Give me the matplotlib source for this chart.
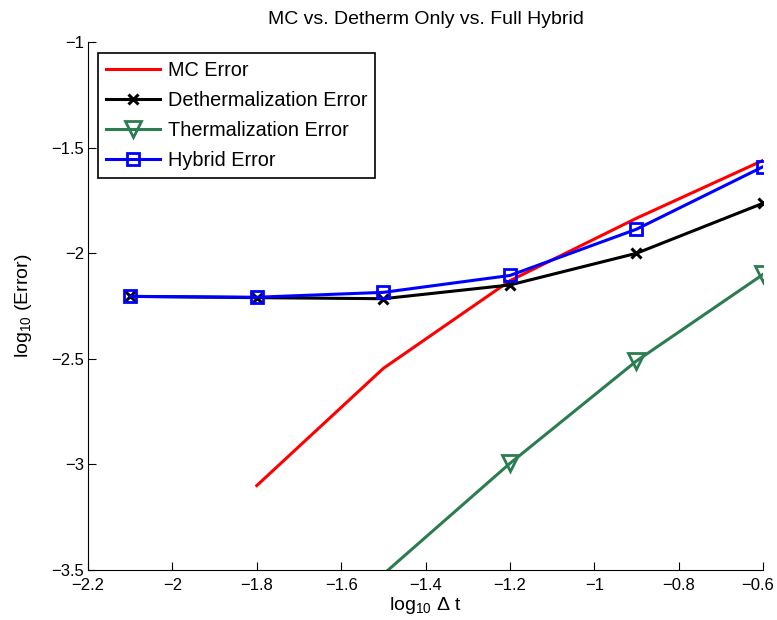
import matplotlib
matplotlib.use("Agg")
import matplotlib.pyplot as plt
import matplotlib.transforms as mtransforms

plt.rcParams['font.family'] = ['Liberation Sans', 'DejaVu Sans']
plt.rcParams['mathtext.fontset'] = 'custom'
plt.rcParams['mathtext.rm'] = 'Liberation Sans'

# log10 of time step
dt_mc = [-1.8, -1.5, -1.2, -0.9, -0.6]
dt_all = [-2.1, -1.8, -1.5, -1.2, -0.9, -0.6]
dt_therm = [-1.5, -1.2, -0.9, -0.6]

# log10 of error
mc_err = [-3.10, -2.545, -2.13, -1.834, -1.56]
detherm_err = [-2.204, -2.21, -2.215, -2.15, -2.0, -1.763]
therm_err = [-3.52, -2.995, -2.51, -2.10]
hybrid_err = [-2.204, -2.208, -2.185, -2.105, -1.886, -1.59]

fig = plt.figure(figsize=(7.77, 6.2), dpi=100)
ax = fig.add_axes([0.1133, 0.0806, 0.8687, 0.8514])

ax.plot(dt_mc, mc_err, color='red', lw=2.2, label='MC Error')
ax.plot(dt_all, detherm_err, color='black', lw=2.2, marker='x', ms=7,
        mew=2.2, label='Dethermalization Error')
# first point lies below the axis, its marker is hidden like MATLAB does
ax.plot(dt_therm, therm_err, color='#2c7c52', lw=2.2, marker='v', ms=12,
        mfc='none', mew=2, markevery=[1, 2, 3], label='Thermalization Error')
ax.plot(dt_all, hybrid_err, color='blue', lw=2.2, marker='s', ms=8,
        mfc='none', mew=2, label='Hybrid Error')

ax.set_xlim(-2.2, -0.6)
ax.set_ylim(-3.5, -1)
ax.set_xticks([-2.2, -2, -1.8, -1.6, -1.4, -1.2, -1, -0.8, -0.6])
ax.set_xticklabels(['\u22122.2', '\u22122', '\u22121.8', '\u22121.6', '\u22121.4',
                    '\u22121.2', '\u22121', '\u22120.8', '\u22120.6'])
ax.set_yticks([-3.5, -3, -2.5, -2, -1.5, -1])
ax.set_yticklabels(['\u22123.5', '\u22123', '\u22122.5', '\u22122', '\u22121.5', '\u22121'])
ax.tick_params(direction='in', length=6, labelsize=12)
ax.tick_params(axis='x', pad=6)
ax.tick_params(axis='y', pad=3)
ax.spines['top'].set_visible(False)
ax.spines['right'].set_visible(False)

# nudge the last x label left so it stays inside the figure
last = ax.get_xticklabels()[-1]
last.set_transform(last.get_transform() +
                   mtransforms.ScaledTranslation(-5 / 100, 0, fig.dpi_scale_trans))

ax.set_xlabel(r'log$_{10}$ $\Delta$ t', fontsize=14, labelpad=1)
ax.set_ylabel(r'log$_{10}$ (Error)', fontsize=14, labelpad=12)
ax.set_title('MC vs. Detherm Only vs. Full Hybrid', fontsize=14, pad=13)

leg = ax.legend(loc='upper left', bbox_to_anchor=(0.015, 0.979), fontsize=14.3,
                fancybox=False, framealpha=1, edgecolor='black',
                handlelength=2.7, borderpad=0.4, labelspacing=0.55,
                handletextpad=0.4, borderaxespad=0)
leg.get_frame().set_linewidth(1.2)

fig.savefig("out.png", dpi=100)
